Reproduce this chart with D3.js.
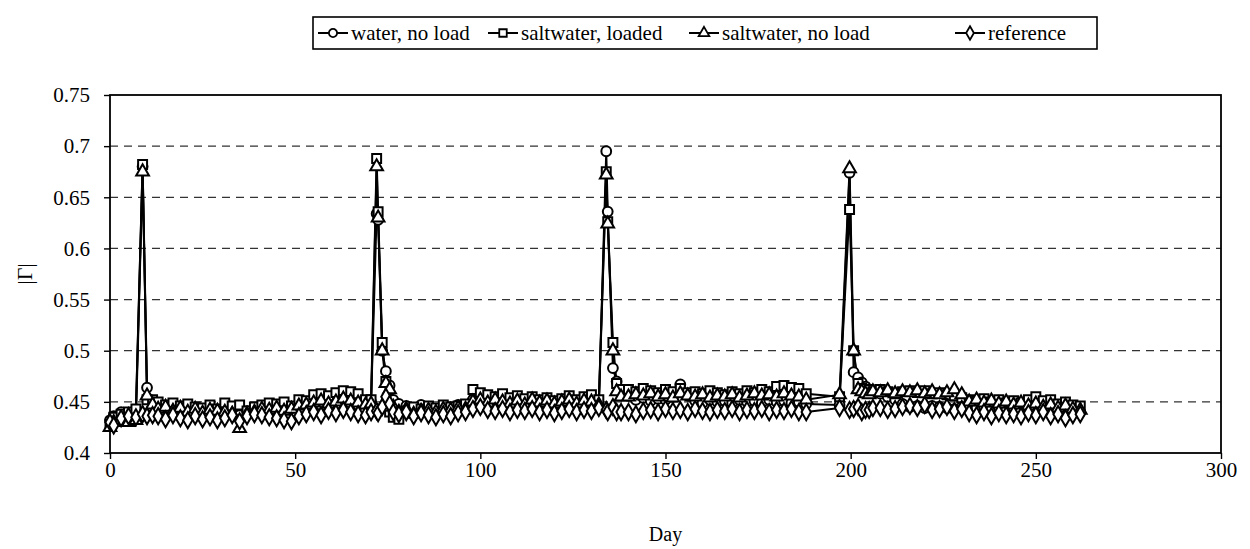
<!DOCTYPE html>
<html>
<head>
<meta charset="utf-8">
<script src="https://cdn.jsdelivr.net/npm/d3@7"></script>
<style>
  body { margin: 0; background: #fff; }
  svg { display: block; font-family: "Liberation Serif", "Times New Roman", serif; }
</style>
</head>
<body>
<div id="chart"></div>
<script>
// Days of measurement (two entries at some spikes: repeated readings that day)
const days = [
  0, 1, 3, 5, 7, 8.8, 10, 11.5,
  13, 15, 17, 19, 21, 23, 25, 27, 29, 31, 33, 35, 37, 39, 41, 43, 45, 47, 49,
  51, 53, 55, 57, 59, 61, 63, 65, 67, 69, 70.5,
  72, 72.4, 73.5, 74.5, 75.5, 76.5,
  78, 80, 82, 84, 86, 88, 90, 92, 94, 96, 98, 100, 102, 104, 106, 108, 110,
  112, 114, 116, 118, 120, 122, 124, 126, 128, 130, 132,
  134, 134.4, 135.8, 136.8, 138,
  140, 142, 144, 146, 148, 150, 152, 154, 156, 158, 160, 162, 164, 166, 168,
  170, 172, 174, 176, 178, 180, 182, 184, 186, 188, 197,
  199.7, 200.8, 202, 203, 204, 205, 206,
  208, 210, 212, 214, 216, 218, 220, 222, 224, 226, 228, 230, 232, 234, 236,
  238, 240, 242, 244, 246, 248, 250, 252, 254, 256, 258, 260, 262
];

const waterNoLoad = [
  .432, .436, .440, .437, .441, .680, .464, .445,
  .447, .441, .444, .439, .443, .440, .438, .444, .441, .443, .440, .437, .441, .444, .443, .446, .442, .445, .444,
  .447, .446, .449, .447, .450, .448, .451, .449, .447, .448, .450,
  .634, .628, .500, .480, .466, .452,
  .448, .446, .444, .447, .445, .443, .446, .444, .447, .446, .452, .450, .451, .449, .452, .448, .450,
  .449, .451, .448, .450, .447, .449, .451, .448, .450, .449, .446,
  .695, .636, .483, .470, .458,
  .456, .452, .454, .451, .453, .452, .455, .467, .456, .451, .449, .452, .450, .451, .449,
  .452, .450, .451, .449, .452, .450, .451, .449, .450, .448, .447,
  .674, .479, .474, .469, .465, .462, .460,
  .458, .455, .452, .448, .445, .446, .444, .446, .445, .444, .443, .445, .446, .444, .445,
  .443, .444, .442, .444, .441, .443, .442, .441, .443, .440, .442, .441, .440
];

const saltwaterLoaded = [
  .428, .435, .438, .440, .443, .682, .452, .452,
  .450, .447, .449, .446, .448, .445, .444, .447, .443, .449, .446, .447, .441, .445, .447, .449, .448, .450, .446,
  .452, .451, .457, .458, .456, .459, .461, .460, .458, .452, .452,
  .688, .636, .508, .470, .440, .435,
  .433, .441, .445, .443, .446, .444, .447, .445, .446, .448, .462, .459, .457, .455, .458, .454, .456,
  .453, .455, .452, .454, .451, .453, .456, .452, .455, .457, .452,
  .675, .626, .508, .468, .462,
  .462, .460, .463, .461, .459, .462, .460, .463, .459, .460, .458, .461, .459, .457, .460,
  .458, .461, .459, .462, .460, .465, .466, .464, .463, .458, .455,
  .638, .500, .468, .463, .460, .462, .460,
  .462, .460, .458, .460, .461, .459, .461, .458, .459, .457, .456, .454, .452, .451, .453,
  .450, .452, .449, .451, .449, .452, .455, .451, .452, .448, .450, .447, .446
];

const saltwaterNoLoad = [
  .425, .430, .432, .430, .432, .675, .456, .447,
  .443, .445, .441, .444, .440, .443, .439, .442, .441, .440, .438, .424, .438, .440, .443, .442, .444, .441, .443,
  .446, .447, .449, .451, .448, .450, .453, .451, .449, .447, .448,
  .680, .630, .500, .468, .462, .445,
  .440, .443, .438, .441, .442, .440, .443, .442, .444, .443, .450, .452, .449, .452, .450, .448, .451,
  .447, .452, .449, .451, .448, .450, .452, .448, .451, .450, .447,
  .672, .624, .500, .460, .455,
  .455, .457, .456, .458, .455, .457, .454, .458, .456, .455, .457, .454, .456, .455, .457,
  .454, .456, .458, .456, .457, .455, .458, .456, .455, .452, .457,
  .678, .500, .462, .460, .458, .457, .460,
  .459, .461, .458, .460, .459, .461, .458, .460, .457, .459, .462, .457, .450, .452, .449,
  .451, .448, .450, .447, .449, .446, .448, .445, .447, .444, .446, .443, .442
];

const reference = [
  .430, .427, .434, .436, .435, .438, .436, .437,
  .436, .433, .437, .434, .432, .436, .433, .435, .432, .434, .437, .431, .436, .438, .437, .435, .434, .432, .431,
  .436, .438, .440, .437, .441, .439, .442, .440, .438, .437, .440,
  .441, .439, .445, .455, .448, .440,
  .438, .440, .436, .439, .437, .435, .438, .436, .439, .440, .443, .445, .442, .441, .443, .440, .442,
  .441, .443, .440, .442, .439, .441, .443, .440, .442, .441, .444,
  .442, .440, .445, .440, .440,
  .440, .438, .441, .442, .440, .443, .441, .442, .440, .443, .441, .440, .442, .441, .443,
  .440, .442, .441, .443, .440, .442, .441, .443, .440, .440, .444,
  .442, .443, .445, .440, .442, .442, .444,
  .444, .442, .443, .445, .446, .444, .447, .442, .443, .445, .441, .443, .439, .437, .440,
  .436, .439, .437, .438, .436, .439, .437, .440, .436, .438, .434, .437, .438
];

const seriesNames = ["water, no load", "saltwater, loaded", "saltwater, no load", "reference"];
const seriesValues = [waterNoLoad, saltwaterLoaded, saltwaterNoLoad, reference];
const seriesSymbols = [d3.symbolCircle, d3.symbolSquare, d3.symbolTriangle, d3.symbolDiamond];
const symbolSizes = [75, 80, 70, 75];

const xTicks = [0, 50, 100, 150, 200, 250, 300];
const yTicks = [0.4, 0.45, 0.5, 0.55, 0.6, 0.65, 0.7, 0.75];

const serif = "'Liberation Serif', 'Times New Roman', serif";
const W = 1250, H = 549;
const margin = { top: 95, right: 29, bottom: 96, left: 110 };
const w = W - margin.left - margin.right;
const h = H - margin.top - margin.bottom;

const svg = d3.select("#chart").append("svg")
  .attr("width", W).attr("height", H)
  .attr("font-family", serif);

const g = svg.append("g").attr("transform", `translate(${margin.left},${margin.top})`);

const x = d3.scaleLinear().domain([0, 300]).range([0, w]);
const y = d3.scaleLinear().domain([0.4, 0.75]).range([h, 0]);

// Dashed gridlines
g.append("g")
  .selectAll("line")
  .data(yTicks.filter(t => t > 0.4 && t < 0.75))
  .join("line")
  .attr("x1", 0).attr("x2", w)
  .attr("y1", d => y(d)).attr("y2", d => y(d))
  .attr("stroke", "#333")
  .attr("stroke-width", 1.3)
  .attr("stroke-dasharray", "8,6");

// Axes
const xAxis = g.append("g").attr("transform", `translate(0,${h})`)
  .call(d3.axisBottom(x).tickValues(xTicks).tickSize(6).tickPadding(3).tickFormat(d3.format("d")));
const yAxis = g.append("g")
  .call(d3.axisLeft(y).tickValues(yTicks).tickSize(6).tickPadding(14).tickFormat(d => String(+d.toFixed(2))));
[xAxis, yAxis].forEach(a => {
  a.attr("font-family", serif).attr("font-size", 21);
  a.select(".domain").remove();
  a.selectAll("line").attr("stroke", "#000").attr("stroke-width", 1.4);
  a.selectAll("text").attr("fill", "#000");
});

// Plot frame
g.append("rect")
  .attr("width", w).attr("height", h)
  .attr("fill", "none").attr("stroke", "#000").attr("stroke-width", 1.8);

// Axis titles
svg.append("text")
  .attr("x", margin.left + x(150)).attr("y", 541)
  .attr("text-anchor", "middle").attr("font-size", 20).text("Day");
svg.append("text")
  .attr("transform", `translate(32,${margin.top + h / 2}) rotate(-90)`)
  .attr("text-anchor", "middle").attr("font-size", 22).text("|Γ|");

// Series lines and markers
const line = d3.line().x(d => x(d[0])).y(d => y(d[1]));
seriesValues.forEach((vals, i) => {
  const pts = days.map((d, j) => [d, vals[j]]);
  g.append("path")
    .datum(pts)
    .attr("fill", "none")
    .attr("stroke", "#000")
    .attr("stroke-width", 2)
    .attr("d", line);
});
seriesValues.forEach((vals, i) => {
  const sym = d3.symbol().type(seriesSymbols[i]).size(symbolSizes[i]);
  g.append("g")
    .selectAll("path")
    .data(days.map((d, j) => [d, vals[j]]))
    .join("path")
    .attr("transform", d => `translate(${x(d[0])},${y(d[1])})`)
    .attr("d", sym)
    .attr("fill", "#fff")
    .attr("stroke", "#000")
    .attr("stroke-width", 2);
});

// Legend
const legend = svg.append("g");
legend.append("rect")
  .attr("x", 313).attr("y", 17).attr("width", 784).attr("height", 32)
  .attr("fill", "#fff").attr("stroke", "#000").attr("stroke-width", 1.6);
const legendX = [318, 488, 689, 955];
seriesNames.forEach((name, i) => {
  const lg = legend.append("g").attr("transform", `translate(${legendX[i]},33)`);
  lg.append("line").attr("x1", 0).attr("x2", 30).attr("stroke", "#000").attr("stroke-width", 2);
  lg.append("path").attr("transform", "translate(15,0)")
    .attr("d", d3.symbol().type(seriesSymbols[i]).size(symbolSizes[i] * 0.7)())
    .attr("fill", "#fff").attr("stroke", "#000").attr("stroke-width", 1.8);
  lg.append("text").attr("x", 33).attr("dy", "0.35em")
    .attr("font-size", 21).text(name);
});
</script>
</body>
</html>
